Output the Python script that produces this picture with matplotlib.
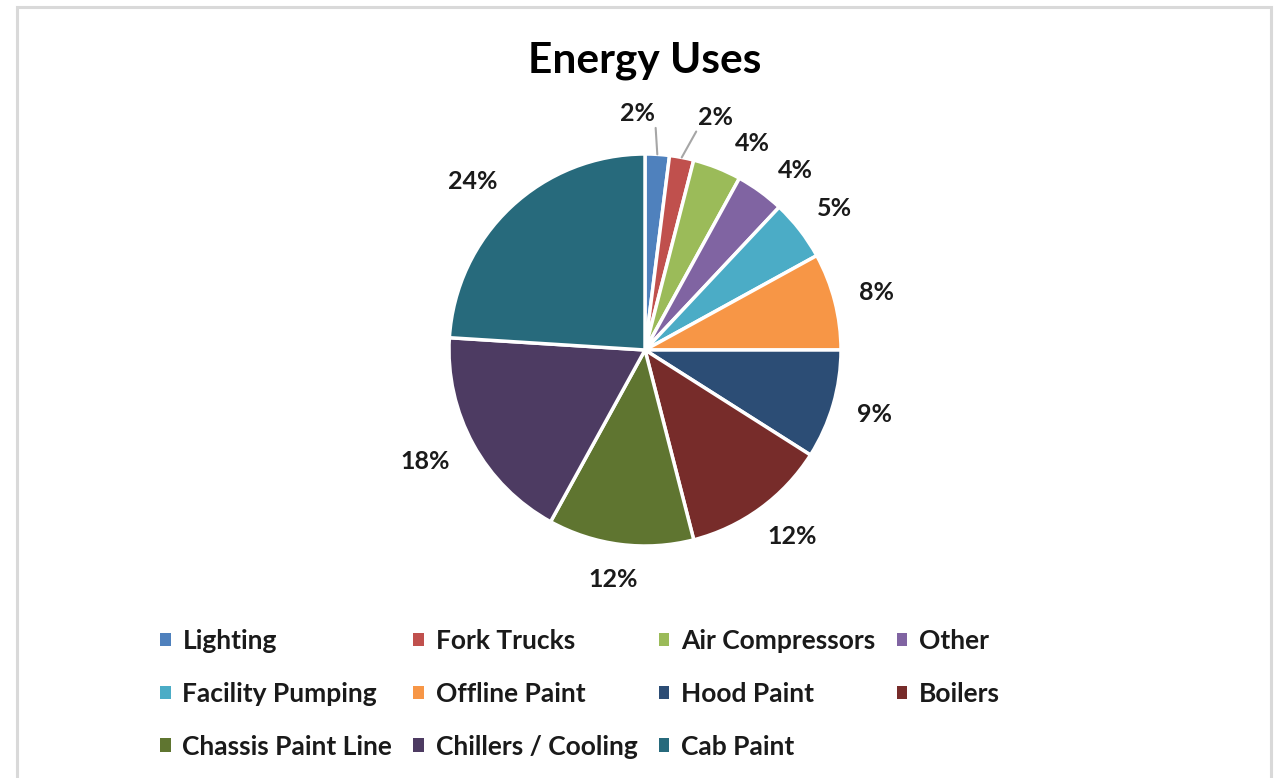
import numpy as np
import matplotlib
matplotlib.use('Agg')
from matplotlib import pyplot as plt
from matplotlib.patches import Rectangle, Patch

# 数据
labels = ['Lighting', 'Fork Trucks', 'Air Compressors', 'Other', 'Facility Pumping',
          'Offline Paint', 'Hood Paint', 'Boilers', 'Chassis Paint Line',
          'Chillers / Cooling', 'Cab Paint']
shares = [2, 2, 4, 4, 5, 8, 9, 12, 12, 18, 24]
colors = ['#4F81BD', '#C0504D', '#9BBB59', '#8064A2', '#4BACC6', '#F79646',
          '#2C4D75', '#772C2A', '#5F7530', '#4D3B62', '#276A7C']

plt.rcParams['font.family'] = ['Lato', 'DejaVu Sans']
plt.rcParams['font.weight'] = 'bold'

W, H = 1281, 778
fig = plt.figure(figsize=(W / 100, H / 100), dpi=100)

# 外框
fig.patches.append(Rectangle((17 / W, -0.05), (1271 - 17) / W, 1.05 - 7 / H,
                             transform=fig.transFigure, fill=False,
                             edgecolor='#d9d9d9', linewidth=2.2))

# 饼图坐标轴: 圆心 (645, 350), 半径 196 px
cx, cy, r = 645, 350, 196
k = 1.6
half = r * k
ax = fig.add_axes([(cx - half) / W, (H - cy - half) / H, 2 * half / W, 2 * half / H])
wedges, _ = ax.pie(shares, colors=colors, startangle=90, counterclock=False,
                   wedgeprops=dict(edgecolor='white', linewidth=2.5))
ax.set_xlim(-k, k)
ax.set_ylim(-k, k)
ax.set_aspect('equal')
ax.axis('off')

# 百分比标签
fs_lab = 18
total = sum(shares)
cum = 0
small = 0
after = 0
for v in shares:
    mid = 90 - (cum + v / 2) / total * 360
    cum += v
    th = np.deg2rad(mid)
    u = np.array([np.cos(th), np.sin(th)])
    txt = '%d%%' % round(v / total * 100)
    if v / total < 0.03:
        end = 1.17 * u
        if small == 0:
            ax.annotate(txt, xy=u, xytext=(end[0] - 0.02, end[1] + 0.0),
                        ha='right', va='baseline', fontsize=fs_lab, color='#1a1a1a',
                        arrowprops=dict(arrowstyle='-', color='#a6a6a6', lw=1.5,
                                        shrinkA=0, shrinkB=0, relpos=(1, 0)))
        else:
            ax.annotate(txt, xy=u, xytext=(end[0] + 0.05, end[1] + 0.0),
                        ha='left', va='baseline', fontsize=fs_lab, color='#1a1a1a',
                        arrowprops=dict(arrowstyle='-', color='#a6a6a6', lw=1.5,
                                        shrinkA=0, shrinkB=0, relpos=(0, 0)))
        small += 1
        after = 0
        continue
    # 紧跟小扇区的标签向顺时针方向让开一点
    if small and after < 2:
        th = np.deg2rad(mid - (5 if after == 0 else 3))
        u = np.array([np.cos(th), np.sin(th)])
    after += 1
    base = 1.1 * u
    hw = len(txt) * 8.5
    ax.annotate(txt, xy=base, xytext=(u[0] * hw, u[1] * 11), textcoords='offset points',
                ha='center', va='center', fontsize=fs_lab, color='#1a1a1a')

# 标题
fig.text(cx / W, 1 - 61 / H, 'Energy Uses', ha='center', va='center',
         fontsize=30.5, fontweight='bold', color='#000000')

# 图例 (按行排列)
ncol = 4
nrow = int(np.ceil(len(labels) / ncol))
order = []
for c in range(ncol):
    for rr in range(nrow):
        i = rr * ncol + c
        if i < len(labels):
            order.append(i)
handles = [Patch(facecolor=colors[i], edgecolor='none', label=labels[i]) for i in order]
fig.legend(handles=handles, loc='upper left', bbox_to_anchor=(160 / W, 1 - 629 / H),
           ncol=ncol, frameon=False, fontsize=19, handlelength=0.4, handleheight=0.4,
           handletextpad=0.45, columnspacing=0.8, labelspacing=1.09, borderpad=0,
           borderaxespad=0, labelcolor='#1a1a1a')

fig.savefig('out.png', dpi=100)
